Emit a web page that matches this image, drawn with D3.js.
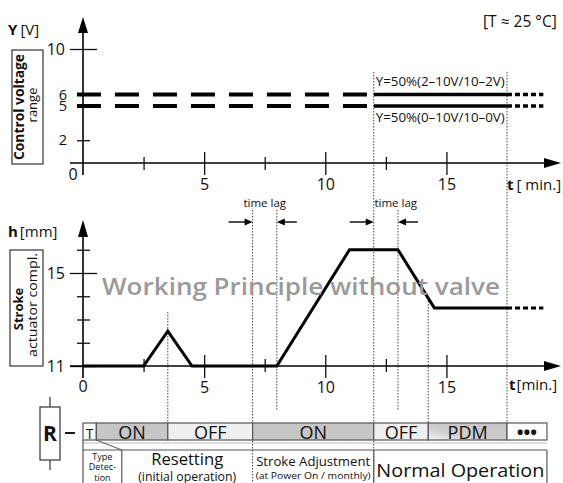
<!DOCTYPE html>
<html><head><meta charset="utf-8">
<script src="https://cdn.jsdelivr.net/npm/d3@7"></script>
<style>body{margin:0;background:#fff} svg{display:block} text{font-family:"Open Sans",sans-serif;fill:#111}</style>
</head><body><svg id="c" width="563" height="483"></svg>
<script>
// ---- data ----
const timeMajorTicks = [5, 10, 15];
const timeMinorTicks = [2.5, 7.5, 12.5];
const voltageMajorTicks = [10];
const voltageMinorTicks = [6, 5, 2];
const strokeMajorTicks = [15, 11];
const strokeMinorTicks = [12, 13, 14, 16];
const strokeTime  = [0, 2.5, 3.5, 4.5, 8, 11, 13, 14.5, 17.5];
const strokeValue = [11, 11, 12.5, 11, 11, 16, 16, 13.5, 13.5];
const strokeExtendTime = [17.5, 19];
const voltageLevels = [6, 5];
const voltageLabels = ["Y=50%(2–10V/10–2V)", "Y=50%(0–10V/10–0V)"];
const voltageSwitchTime = 12, voltageEndTime = 17.5, voltageExtendTime = 19;
const switchLabels = ["T", "ON", "OFF", "ON", "OFF", "PDM", "•••"];
const switchBounds = [0, 0.55, 3.5, 7, 12, 14.25, 17.5, 19.15];
const switchKind   = ["blank", "on", "off", "on", "off", "pdm", "blank"];
const phaseBounds = [0, 1.6, 7, 12, 19.15];
const timeLags = [[7, 8], [12, 13]];

const svg = d3.select("#c");
const x = d3.scaleLinear().domain([0, 17.5]).range([83, 507]);
const yV = d3.scaleLinear().domain([0, 10]).range([163, 49]);
const yH = d3.scaleLinear().domain([11, 15]).range([366, 273]);
const fmt = d3.format("d");

const defs = svg.append("defs");
const g1 = defs.append("linearGradient").attr("id", "pdm").attr("x1", "0").attr("y1", "1").attr("x2", "1").attr("y2", "0");
g1.append("stop").attr("offset", "0").attr("stop-color", "#f4f4f4");
g1.append("stop").attr("offset", "0.35").attr("stop-color", "#cfcfcf");
g1.append("stop").attr("offset", "1").attr("stop-color", "#c4c4c4");

function tri(tx, ty, dir, len, hw) {
  const p = d3.path();
  if (dir === "up") { p.moveTo(tx, ty); p.lineTo(tx - hw, ty + len); p.lineTo(tx + hw, ty + len); }
  if (dir === "right") { p.moveTo(tx, ty); p.lineTo(tx - len, ty - hw); p.lineTo(tx - len, ty + hw); }
  if (dir === "left") { p.moveTo(tx, ty); p.lineTo(tx + len, ty - hw); p.lineTo(tx + len, ty + hw); }
  p.closePath();
  svg.append("path").attr("d", p.toString()).attr("fill", "#000");
}
function styleAxis(g) { g.select(".domain").remove(); g.selectAll(".tick line").attr("stroke", "#111").attr("stroke-width", 1.3); g.selectAll("text").style("font-family", '"Open Sans",sans-serif').attr("fill", "#111"); }

// ---- dotted marker lines ----
const dot = (t, y0, y1) => svg.append("line").attr("x1", x(t)).attr("x2", x(t)).attr("y1", y0).attr("y2", y1)
  .attr("stroke", "#444").attr("stroke-width", 1).attr("stroke-dasharray", "1.5,1.5");
dot(3.5, 312, 423); dot(7, 210, 483); dot(8, 210, 410); dot(12, 72, 483); dot(13, 210, 410);
dot(14.25, 298, 423); dot(17.5, 72, 423);

// ---- top chart ----
svg.append("line").attr("x1", x(0)).attr("x2", x(0)).attr("y1", 28).attr("y2", 175).attr("stroke", "#000").attr("stroke-width", 1.6);
tri(x(0), 17, "up", 16, 5);
svg.append("g").attr("transform", "translate(97,0)").call(d3.axisLeft(yV).tickValues(voltageMajorTicks).tickFormat(fmt).tickSize(27).tickPadding(5)).call(styleAxis).selectAll("text").attr("font-size", 16);
svg.append("g").attr("transform", "translate(90,0)").call(d3.axisLeft(yV).tickValues(voltageMinorTicks).tickFormat(fmt).tickSize(13).tickPadding(10)).call(styleAxis).selectAll("text").attr("font-size", 14.5);
svg.append("text").attr("x", 73).attr("y", 180).attr("text-anchor", "middle").attr("font-size", 16).text("0");
svg.append("line").attr("x1", 70).attr("x2", 548).attr("y1", yV(0)).attr("y2", yV(0)).attr("stroke", "#000").attr("stroke-width", 1.6);
tri(561, yV(0), "right", 17, 5);
svg.append("g").attr("transform", "translate(0,175)").call(d3.axisBottom(x).tickValues(timeMajorTicks).tickFormat(fmt).tickSize(-23).tickPadding(4)).call(styleAxis).selectAll("text").attr("font-size", 16);
svg.append("g").attr("transform", "translate(0,170)").call(d3.axisBottom(x).tickValues(timeMinorTicks).tickSize(-13).tickFormat("")).call(styleAxis);

voltageLevels.forEach((v, i) => {
  svg.append("line").attr("x1", x(-0.25)).attr("x2", x(voltageSwitchTime)).attr("y1", yV(v)).attr("y2", yV(v))
    .attr("stroke", "#000").attr("stroke-width", 4).attr("stroke-dasharray", "24,14");
  svg.append("line").attr("x1", x(voltageSwitchTime)).attr("x2", x(voltageEndTime)).attr("y1", yV(v)).attr("y2", yV(v))
    .attr("stroke", "#000").attr("stroke-width", 3.5);
  svg.append("line").attr("x1", x(voltageEndTime)).attr("x2", x(voltageExtendTime)).attr("y1", yV(v)).attr("y2", yV(v))
    .attr("stroke", "#000").attr("stroke-width", 3.5).attr("stroke-dasharray", "5,3");
});
svg.append("text").attr("x", x(voltageSwitchTime) + 2).attr("y", yV(voltageLevels[0]) - 9).attr("font-size", 12.5)
  .attr("textLength", 129).attr("lengthAdjust", "spacingAndGlyphs").text(voltageLabels[0]);
svg.append("text").attr("x", x(voltageSwitchTime) + 2).attr("y", yV(voltageLevels[1]) + 16).attr("font-size", 12.5)
  .attr("textLength", 129).attr("lengthAdjust", "spacingAndGlyphs").text(voltageLabels[1]);

const yl = svg.append("text").attr("x", 8).attr("y", 35).attr("font-size", 15);
yl.append("tspan").attr("font-weight", "bold").text("Y");
yl.append("tspan").attr("dx", 3).text("[V]");
svg.append("text").attr("x", 483).attr("y", 27).attr("font-size", 15.5).text("[T ≈ 25 °C]");
const tl1 = svg.append("text").attr("x", 507).attr("y", 190).attr("font-size", 15);
tl1.append("tspan").attr("font-weight", "bold").text("t");
tl1.append("tspan").attr("dx", 3).text("[ min.]");
svg.append("rect").attr("x", 12).attr("y", 50).attr("width", 31).attr("height", 114).attr("fill", "none").attr("stroke", "#333").attr("stroke-width", 1.2);
svg.append("text").attr("transform", "translate(24,107) rotate(-90)").attr("text-anchor", "middle").attr("font-size", 13.5).attr("font-weight", "bold")
  .attr("textLength", 106).attr("lengthAdjust", "spacingAndGlyphs").text("Control voltage");
svg.append("text").attr("transform", "translate(37,105) rotate(-90)").attr("text-anchor", "middle").attr("font-size", 13).text("range");

// ---- bottom chart ----
svg.append("line").attr("x1", x(0)).attr("x2", x(0)).attr("y1", 232).attr("y2", 378).attr("stroke", "#000").attr("stroke-width", 1.6);
tri(x(0), 220, "up", 17, 5);
svg.append("g").attr("transform", "translate(97,0)").call(d3.axisLeft(yH).tickValues(strokeMajorTicks).tickFormat(fmt).tickSize(27).tickPadding(5)).call(styleAxis).selectAll("text").attr("font-size", 16);
svg.append("g").attr("transform", "translate(90,0)").call(d3.axisLeft(yH).tickValues(strokeMinorTicks).tickSize(13).tickFormat("")).call(styleAxis);
svg.append("line").attr("x1", 70).attr("x2", 548).attr("y1", yH(11)).attr("y2", yH(11)).attr("stroke", "#000").attr("stroke-width", 1.6);
tri(561, yH(11), "right", 17, 5);
svg.append("g").attr("transform", "translate(0,378)").call(d3.axisBottom(x).tickValues(timeMajorTicks).tickFormat(fmt).tickSize(-23).tickPadding(4)).call(styleAxis).selectAll("text").attr("font-size", 16);
svg.append("g").attr("transform", "translate(0,372)").call(d3.axisBottom(x).tickValues(timeMinorTicks).tickSize(-13).tickFormat("")).call(styleAxis);
svg.append("text").attr("x", x(0)).attr("y", 392).attr("text-anchor", "middle").attr("font-size", 16).text("0");

const line = d3.line().x(d => x(d[0])).y(d => yH(d[1]));
svg.append("path").attr("d", line(strokeTime.map((t, i) => [t, strokeValue[i]]))).attr("fill", "none").attr("stroke", "#000").attr("stroke-width", 3).attr("stroke-linejoin", "miter");
svg.append("path").attr("d", line(strokeExtendTime.map(t => [t, strokeValue[strokeValue.length - 1]]))).attr("fill", "none").attr("stroke", "#000").attr("stroke-width", 3).attr("stroke-dasharray", "5,3");

const hl = svg.append("text").attr("x", 8).attr("y", 237).attr("font-size", 15);
hl.append("tspan").attr("font-weight", "bold").text("h");
hl.append("tspan").attr("dx", 2).text("[mm]");
const tl2 = svg.append("text").attr("x", 509).attr("y", 390).attr("font-size", 15);
tl2.append("tspan").attr("font-weight", "bold").text("t");
tl2.append("tspan").attr("dx", 1).text("[min.]");
svg.append("rect").attr("x", 10).attr("y", 250).attr("width", 33).attr("height", 116).attr("fill", "none").attr("stroke", "#333").attr("stroke-width", 1.2);
svg.append("text").attr("transform", "translate(23,309) rotate(-90)").attr("text-anchor", "middle").attr("font-size", 13).attr("font-weight", "bold").text("Stroke");
svg.append("text").attr("transform", "translate(37,305) rotate(-90)").attr("text-anchor", "middle").attr("font-size", 12.5)
  .attr("textLength", 104).attr("lengthAdjust", "spacingAndGlyphs").text("actuator compl.");
svg.append("text").attr("x", 102).attr("y", 295).attr("font-size", 24).attr("font-weight", 600).style("fill", "#9a9a9a")
  .attr("textLength", 398).attr("lengthAdjust", "spacingAndGlyphs").text("Working Principle without valve");

timeLags.forEach((lag, i) => {
  const a = x(lag[0]), b = x(lag[1]);
  svg.append("line").attr("x1", a - 24).attr("x2", a - 6).attr("y1", 222).attr("y2", 222).attr("stroke", "#000").attr("stroke-width", 1.4);
  tri(a, 222, "right", 8, 3.5);
  svg.append("line").attr("x1", b + 20).attr("x2", b + 6).attr("y1", 222).attr("y2", 222).attr("stroke", "#000").attr("stroke-width", 1.4);
  tri(b, 222, "left", 8, 3.5);
  const tx = i === 0 ? (a + b) / 2 : a + 22;
  svg.append("text").attr("x", tx).attr("y", 207).attr("text-anchor", "middle").attr("font-size", 11.5).text("time lag");
});

// ---- R symbol ----
svg.append("line").attr("x1", 50).attr("x2", 50).attr("y1", 397).attr("y2", 470).attr("stroke", "#333").attr("stroke-width", 1.2);
svg.append("rect").attr("x", 40).attr("y", 407).attr("width", 20).attr("height", 53).attr("fill", "#fff").attr("stroke", "#333").attr("stroke-width", 1.2);
svg.append("text").attr("x", 50).attr("y", 441).attr("text-anchor", "middle").attr("font-size", 21).attr("font-weight", "bold").text("R");
svg.append("line").attr("x1", 65).attr("x2", 75).attr("y1", 433).attr("y2", 433).attr("stroke", "#000").attr("stroke-width", 1.8);

// ---- switching row ----
const fillOf = k => k === "on" ? "#c6c6c6" : k === "off" ? "#efefef" : k === "pdm" ? "url(#pdm)" : "#fff";
switchLabels.forEach((lab, i) => {
  const x0 = x(switchBounds[i]), x1 = x(switchBounds[i + 1]);
  svg.append("rect").attr("x", x0).attr("y", 423).attr("width", x1 - x0).attr("height", 17).attr("fill", fillOf(switchKind[i])).attr("stroke", "#555").attr("stroke-width", 1.2);
  svg.append("text").attr("x", (x0 + x1) / 2).attr("y", 438.5).attr("text-anchor", "middle")
    .attr("font-size", i === 0 ? 14 : 18).attr("font-weight", i === 6 ? "bold" : "normal").text(lab);
});
svg.append("line").attr("x1", x(0)).attr("x2", x(switchBounds[7])).attr("y1", 443).attr("y2", 443).attr("stroke", "#bbb").attr("stroke-width", 1);
svg.append("line").attr("x1", x(switchBounds[1])).attr("x2", x(phaseBounds[1])).attr("y1", 440).attr("y2", 450).attr("stroke", "#555").attr("stroke-width", 1);

// ---- phase row ----
svg.append("line").attr("x1", x(0)).attr("x2", x(phaseBounds[4])).attr("y1", 450).attr("y2", 450).attr("stroke", "#555").attr("stroke-width", 1.2);
phaseBounds.forEach((b, i) => {
  if (i === 2) return;
  svg.append("line").attr("x1", x(b)).attr("x2", x(b)).attr("y1", i === 0 ? 440 : 450).attr("y2", 483).attr("stroke", "#555").attr("stroke-width", 1.2);
});
const pc = i => (x(phaseBounds[i]) + x(phaseBounds[i + 1])) / 2;
["Type", "Detec-", "tion"].forEach((s, j) => svg.append("text").attr("x", pc(0)).attr("y", 459.5 + j * 10.5).attr("text-anchor", "middle").attr("font-size", 9).text(s));
svg.append("text").attr("x", pc(1)).attr("y", 465).attr("text-anchor", "middle").attr("font-size", 16.5).attr("textLength", 72).attr("lengthAdjust", "spacingAndGlyphs").text("Resetting");
svg.append("text").attr("x", pc(1)).attr("y", 480.5).attr("text-anchor", "middle").attr("font-size", 12.5).attr("textLength", 98).attr("lengthAdjust", "spacingAndGlyphs").text("(initial operation)");
svg.append("text").attr("x", pc(2)).attr("y", 466).attr("text-anchor", "middle").attr("font-size", 12.5).attr("textLength", 114).attr("lengthAdjust", "spacingAndGlyphs").text("Stroke Adjustment");
svg.append("text").attr("x", pc(2)).attr("y", 479).attr("text-anchor", "middle").attr("font-size", 8.5).attr("textLength", 115).attr("lengthAdjust", "spacingAndGlyphs").text("(at Power On / monthly)");
svg.append("text").attr("x", pc(3)).attr("y", 477).attr("text-anchor", "middle").attr("font-size", 18.5).attr("textLength", 168).attr("lengthAdjust", "spacingAndGlyphs").text("Normal Operation");
</script></body></html>
